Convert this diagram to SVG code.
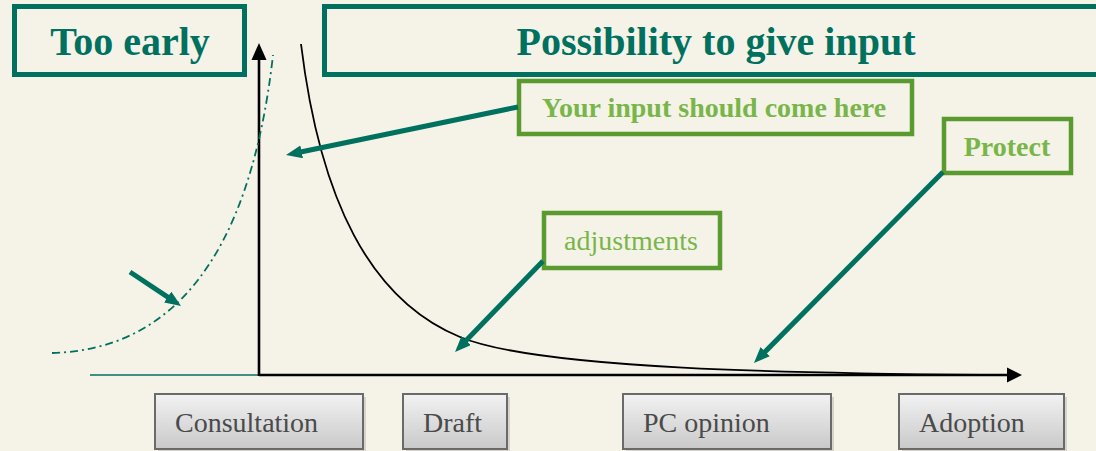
<svg xmlns="http://www.w3.org/2000/svg" width="1096" height="451" viewBox="0 0 1096 451">
<style>
.head{fill:none;stroke:#00705F;stroke-width:5}
.headtxt{font-weight:bold;font-size:40px;fill:#00705F;text-anchor:middle}
.callout{fill:none;stroke:#5A9A2E;stroke-width:4.5}
.calltxt{font-size:28px;fill:#79B64A;text-anchor:middle}
.bold{font-weight:bold}
.ptr{stroke:#00705F;stroke-width:5;fill:none;marker-end:url(#tealArrow)}
.stage{fill:url(#stageGrad);stroke:#6A6A6A;stroke-width:2}
.shadow{fill:#000;opacity:0.12}
.stagetxt{font-size:28px;fill:#4A4A4A}
</style>
<defs>
<linearGradient id="stageGrad" x1="0" y1="0" x2="0" y2="1">
<stop offset="0" stop-color="#F2F2F2"/>
<stop offset="1" stop-color="#C9C9C9"/>
</linearGradient>
<marker id="tealArrow" markerUnits="userSpaceOnUse" markerWidth="16" markerHeight="14" refX="6" refY="6.5" orient="auto">
<path d="M0,0 L16,6.5 L0,13 Z" fill="#00705F"/>
</marker>
</defs>
<rect width="1096" height="451" fill="#F5F3E8"/>

<g id="axes">
<line x1="90" y1="375" x2="272" y2="375" stroke="#00705F" stroke-width="1.6"/>
<line x1="259" y1="376" x2="259" y2="58" stroke="#000" stroke-width="2.6"/>
<polygon points="259,43 251.5,60 266.5,60" fill="#000"/>
<line x1="259" y1="375" x2="1009" y2="375" stroke="#000" stroke-width="2.6"/>
<polygon points="1022,375 1007,367.5 1007,382.5" fill="#000"/>
</g>

<g id="curves">
<path d="M52,353 C170,350 250,260 273,55" fill="none" stroke="#00705F" stroke-width="1.8" stroke-dasharray="8,4,2,4"/>
<path d="M301,44 C320,200 370,300 460,337 C540,370 800,373 982,375" fill="none" stroke="#000" stroke-width="1.8"/>
</g>

<g font-family="'Liberation Serif', 'Times New Roman', Times, serif">
<g id="too-early">
<rect class="head" x="14.5" y="6.5" width="230" height="68"/>
<text class="headtxt" x="130" y="55">Too early</text>
</g>
<g id="possibility">
<rect class="head" x="324.5" y="6.5" width="790" height="68"/>
<text class="headtxt" x="716" y="55">Possibility to give input</text>
</g>

<g id="your-input">
<rect class="callout" x="519" y="81" width="393" height="53"/>
<text class="calltxt bold" x="714" y="117">Your input should come here</text>
</g>
<g id="protect">
<rect class="callout" x="944" y="119" width="127" height="54"/>
<text class="calltxt bold" x="1007" y="156">Protect</text>
</g>
<g id="adjustments">
<rect class="callout" x="544" y="213" width="176" height="55"/>
<text class="calltxt" x="631" y="250">adjustments</text>
</g>

<g id="connectors">
<line class="ptr" x1="518" y1="107" x2="295.8" y2="153"/>
<line class="ptr" x1="943" y1="172" x2="761" y2="355.9"/>
<line class="ptr" x1="543" y1="261" x2="462" y2="344.8"/>
<line class="ptr" x1="130" y1="272" x2="172.7" y2="300.4"/>
</g>

<g id="consultation">
<rect class="shadow" x="158" y="397" width="208" height="55"/>
<rect class="stage" x="155" y="394" width="208" height="55"/>
<text class="stagetxt" x="175" y="432">Consultation</text>
</g>
<g id="draft">
<rect class="shadow" x="406" y="397" width="104" height="55"/>
<rect class="stage" x="403" y="394" width="104" height="55"/>
<text class="stagetxt" x="423" y="432">Draft</text>
</g>
<g id="pc-opinion">
<rect class="shadow" x="626" y="397" width="208" height="55"/>
<rect class="stage" x="623" y="394" width="208" height="55"/>
<text class="stagetxt" x="643" y="432">PC opinion</text>
</g>
<g id="adoption">
<rect class="shadow" x="902" y="397" width="165" height="55"/>
<rect class="stage" x="899" y="394" width="165" height="55"/>
<text class="stagetxt" x="919" y="432">Adoption</text>
</g>
</g>
</svg>
